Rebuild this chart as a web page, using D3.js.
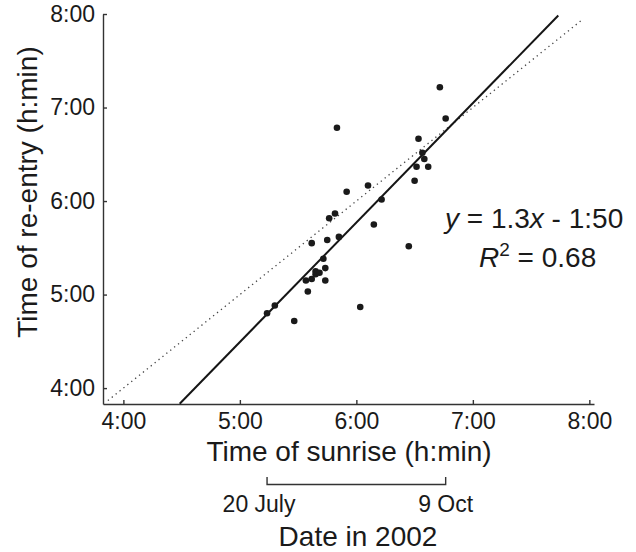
<!DOCTYPE html>
<html>
<head>
<meta charset="utf-8">
<script src="https://cdn.jsdelivr.net/npm/d3@7"></script>
<style>
  body { margin: 0; background: #fff; }
  svg { font-family: "Liberation Sans", Arial, sans-serif; }
  .axis path, .axis line { stroke: #333; stroke-width: 1.4; }
  .axis text { font-size: 23px; fill: #1a1a1a; }
</style>
</head>
<body>
<svg id="chart" width="636" height="552"></svg>
<script>
// sunrise time vs. time of re-entry, one pair per day
const sunrise = ["5:14","5:18","5:28","5:34","5:35","5:37","5:39","5:39","5:41","5:44","5:44","5:43","5:37","5:45","5:46","5:49",
                 "5:50","5:51","5:55","6:02","6:06","6:09","6:13","6:27","6:30","6:31","6:32","6:34","6:35","6:37","6:43","6:46"];
const reentry = ["4:48","4:53","4:43","5:09","5:02","5:10","5:13","5:15","5:14","5:17","5:09","5:23","5:33","5:35","5:49","5:52",
                 "6:47","5:37","6:06","4:52","6:10","5:45","6:01","5:31","6:13","6:22","6:40","6:31","6:27","6:22","7:13","6:53"];

const xTicks = ["4:00","5:00","6:00","7:00","8:00"];
const yTicks = ["4:00","5:00","6:00","7:00","8:00"];

// regression line as drawn (start, end) and the y = x reference
const fitLine = [["4:29","3:50"], ["7:44","7:59"]];
const identityRange = ["3:52","7:56"];

// date span of the observations, placed at their sunrise times
const dateLabels = ["20 July", "9 Oct"];
const dateSunrise = ["5:14", "6:46"];

function toHours(s) {
  const [h, m] = s.split(":").map(Number);
  return h + m / 60;
}
function fmt(h) {
  const hh = Math.floor(h + 1e-9);
  const mm = Math.round((h - hh) * 60);
  return hh + ":" + String(mm).padStart(2, "0");
}

const svg = d3.select("#chart");

const x = d3.scaleLinear().domain([3.825, 8.04]).range([103, 594]);
const y = d3.scaleLinear().domain([3.83, 8]).range([404, 14]);

const points = sunrise.map((s, i) => ({ sx: toHours(s), ry: toHours(reentry[i]) }));

// axes, ticks pointing inwards
svg.append("g")
  .attr("class", "axis")
  .attr("transform", "translate(0,404)")
  .call(d3.axisBottom(x).tickValues(xTicks.map(toHours)).tickFormat(fmt)
          .tickSizeInner(-4).tickSizeOuter(0).tickPadding(9));

svg.append("g")
  .attr("class", "axis")
  .attr("transform", "translate(103,0)")
  .call(d3.axisLeft(y).tickValues(yTicks.map(toHours)).tickFormat(fmt)
          .tickSizeInner(-4).tickSizeOuter(0).tickPadding(8));

// y = x dotted line
const ident = identityRange.map(toHours);
svg.append("line")
  .attr("x1", x(ident[0])).attr("y1", y(ident[0]))
  .attr("x2", x(ident[1])).attr("y2", y(ident[1]))
  .attr("stroke", "#444")
  .attr("stroke-width", 1.3)
  .attr("stroke-dasharray", "1.3,3.7");

// regression line
svg.append("line")
  .attr("x1", x(toHours(fitLine[0][0]))).attr("y1", y(toHours(fitLine[0][1])))
  .attr("x2", x(toHours(fitLine[1][0]))).attr("y2", y(toHours(fitLine[1][1])))
  .attr("stroke", "#151515")
  .attr("stroke-width", 2);

svg.append("g").selectAll("circle")
  .data(points)
  .enter()
  .append("circle")
  .attr("cx", d => x(d.sx))
  .attr("cy", d => y(d.ry))
  .attr("r", 3.3)
  .attr("fill", "#1a1a1a");

// axis titles
svg.append("text")
  .attr("x", 349).attr("y", 461)
  .attr("text-anchor", "middle")
  .attr("font-size", 28).attr("fill", "#1a1a1a")
  .text("Time of sunrise (h:min)");

svg.append("text")
  .attr("transform", "translate(37,192) rotate(-90)")
  .attr("text-anchor", "middle")
  .attr("font-size", 28).attr("fill", "#1a1a1a")
  .text("Time of re-entry (h:min)");

// equation
const eq = svg.append("text")
  .attr("x", 445).attr("y", 228)
  .attr("font-size", 28).attr("fill", "#1a1a1a");
eq.append("tspan").attr("font-style", "italic").text("y");
eq.append("tspan").text(" = 1.3");
eq.append("tspan").attr("font-style", "italic").text("x");
eq.append("tspan").text(" - 1:50");

const r2 = svg.append("text")
  .attr("x", 479).attr("y", 267)
  .attr("font-size", 28).attr("fill", "#1a1a1a");
r2.append("tspan").attr("font-style", "italic").text("R");
r2.append("tspan").attr("font-size", 19).attr("dy", -11).text("2");
r2.append("tspan").attr("dy", 11).text(" = 0.68");

// date bracket below the x axis
const bx = dateSunrise.map(d => x(toHours(d)));
svg.append("path")
  .attr("d", `M${bx[0]},477 V484.5 H${bx[1]} V477`)
  .attr("fill", "none")
  .attr("stroke", "#333")
  .attr("stroke-width", 1.4);

svg.selectAll(".date")
  .data(dateLabels)
  .enter()
  .append("text")
  .attr("class", "date")
  .attr("x", (d, i) => bx[i] + (i === 0 ? -8 : 0))
  .attr("y", 512)
  .attr("text-anchor", "middle")
  .attr("font-size", 23).attr("fill", "#1a1a1a")
  .text(d => d);

svg.append("text")
  .attr("x", 358).attr("y", 546)
  .attr("text-anchor", "middle")
  .attr("font-size", 28).attr("fill", "#1a1a1a")
  .text("Date in 2002");
</script>
</body>
</html>
